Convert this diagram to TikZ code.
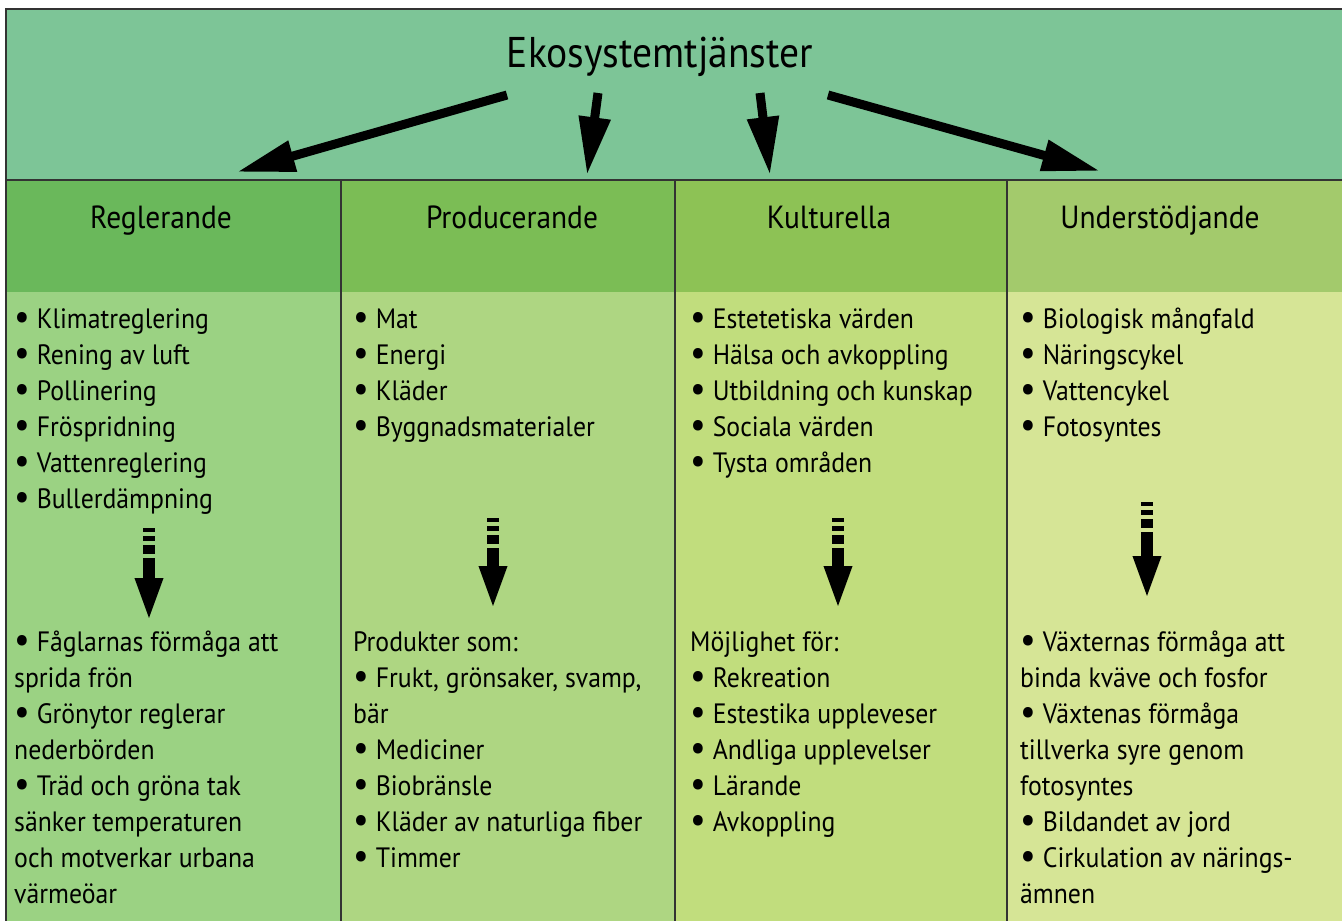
\documentclass[tikz,border=0pt]{standalone}
\usepackage{fontspec}
\setmainfont[FakeStretch=0.92]{PT Sans}
\usetikzlibrary{arrows.meta}
\definecolor{hdr}{HTML}{7DC597}
\definecolor{hA}{HTML}{6AB85B}
\definecolor{hB}{HTML}{7BBD55}
\definecolor{hC}{HTML}{8DC255}
\definecolor{hD}{HTML}{A3CA6C}
\definecolor{cA}{HTML}{9BD283}
\definecolor{cB}{HTML}{AED682}
\definecolor{cC}{HTML}{C1DD7D}
\definecolor{cD}{HTML}{D6E596}
\definecolor{frm}{HTML}{333333}
\newcommand\bul{\raisebox{-0.06em}{\scalebox{1.35}{•}}}
\tikzset{
  frameline/.style={draw=frm, line width=1.6pt},
  item/.style={anchor=base west, inner sep=0pt, font=\fontsize{28}{36}\selectfont, text=black},
  colhead/.style={anchor=base, inner sep=0pt, font=\fontsize{32}{38}\selectfont, text=black},
  bigarrow/.style={line width=9pt, -{Triangle[length=58pt,width=30pt]}},
  dasharrow/.style={line width=12pt, -{Triangle[length=44pt,width=25pt]},
    dash pattern=on 4pt off 4pt on 5pt off 4pt on 9pt off 4pt on 400pt}
}
\begin{document}
\begin{tikzpicture}[x=1pt,y=-1pt]
\useasboundingbox (0,0) rectangle (1342,921);
\fill[white] (0,0) rectangle (1342,921);
% backgrounds
\fill[hdr] (6,9) rectangle (1342,180);
\fill[hA] (6,180) rectangle (341,292);
\fill[hB] (341,180) rectangle (675,292);
\fill[hC] (675,180) rectangle (1007,292);
\fill[hD] (1007,180) rectangle (1342,292);
\fill[cA] (6,292) rectangle (341,921);
\fill[cB] (341,292) rectangle (675,921);
\fill[cC] (675,292) rectangle (1007,921);
\fill[cD] (1007,292) rectangle (1342,921);
% frame lines
\draw[frameline] (6,921) -- (6,9) -- (1342,9);
\draw[frameline] (6,180) -- (1342,180);
\draw[frameline] (341,180) -- (341,921);
\draw[frameline] (675,180) -- (675,921);
\draw[frameline] (1007,180) -- (1007,921);
% title
\node[anchor=base, inner sep=0pt, font=\fontsize{43}{50}\selectfont, text=black] (title) at (660,67) {Ekosystemtjänster};
% column headers
\node[colhead] (hReg) at (161,228) {Reglerande};
\node[colhead] (hPro) at (512,228) {Producerande};
\node[colhead] (hKul) at (829,228) {Kulturella};
\node[colhead] (hUnd) at (1160,228) {Understödjande};
% header arrows
\coordinate (a1s) at (507,95);  \coordinate (a1e) at (237,172);
\coordinate (a2s) at (598,93);  \coordinate (a2e) at (587,175);
\coordinate (a3s) at (760,93);  \coordinate (a3e) at (770,175);
\coordinate (a4s) at (828,95);  \coordinate (a4e) at (1100,171);
\draw[bigarrow] (a1s) -- (a1e);
\draw[bigarrow] (a2s) -- (a2e);
\draw[bigarrow] (a3s) -- (a3e);
\draw[bigarrow] (a4s) -- (a4e);
% top lists
\foreach \t [count=\i from 0] in {{\bul\ Klimatreglering},{\bul\ Rening av luft},{\bul\ Pollinering},{\bul\ Fröspridning},{\bul\ Vattenreglering},{\bul\ Bullerdämpning}}
  \node[item] (ra\i) at (14,{328+36*\i}) {\t};
\foreach \t [count=\i from 0] in {{\bul\ Mat},{\bul\ Energi},{\bul\ Kläder},{\bul\ Byggnadsmaterialer}}
  \node[item] (pa\i) at (353,{328+36*\i}) {\t};
\foreach \t [count=\i from 0] in {{\bul\ Estetetiska värden},{\bul\ Hälsa och avkoppling},{\bul\ Utbildning och kunskap},{\bul\ Sociala värden},{\bul\ Tysta områden}}
  \node[item] (ka\i) at (690,{328+36*\i}) {\t};
\foreach \t [count=\i from 0] in {{\bul\ Biologisk mångfald},{\bul\ Näringscykel},{\bul\ Vattencykel},{\bul\ Fotosyntes}}
  \node[item] (ua\i) at (1020,{328+36*\i}) {\t};
% column arrows
\coordinate (d1s) at (149,528);  \coordinate (d1e) at (149,622);
\coordinate (d2s) at (493,518);  \coordinate (d2e) at (493,610);
\coordinate (d3s) at (838,518);  \coordinate (d3e) at (838,610);
\coordinate (d4s) at (1147,502); \coordinate (d4e) at (1147,600);
\draw[dasharrow] (d1s) -- (d1e);
\draw[dasharrow] (d2s) -- (d2e);
\draw[dasharrow] (d3s) -- (d3e);
\draw[dasharrow] (d4s) -- (d4e);
% lower lists
\foreach \t [count=\i from 0] in {{\bul\ Fåglarnas förmåga att},{sprida frön},{\bul\ Grönytor reglerar},{nederbörden},{\bul\ Träd och gröna tak},{sänker temperaturen},{och motverkar urbana},{värmeöar}}
  \node[item] (rb\i) at (14,{651+36*\i}) {\t};
\foreach \t [count=\i from 0] in {{Produkter som:},{\bul\ Frukt, grönsaker, svamp,},{bär},{\bul\ Mediciner},{\bul\ Biobränsle},{\bul\ Kläder av naturliga fiber},{\bul\ Timmer}}
  \node[item] (pb\i) at (353,{651+36*\i}) {\t};
\foreach \t [count=\i from 0] in {{Möjlighet för:},{\bul\ Rekreation},{\bul\ Estestika uppleveser},{\bul\ Andliga upplevelser},{\bul\ Lärande},{\bul\ Avkoppling}}
  \node[item] (kb\i) at (690,{651+36*\i}) {\t};
\foreach \t [count=\i from 0] in {{\bul\ Växternas förmåga att},{binda kväve och fosfor},{\bul\ Växtenas förmåga},{tillverka syre genom},{fotosyntes},{\bul\ Bildandet av jord},{\bul\ Cirkulation av närings-},{ämnen}}
  \node[item] (ub\i) at (1020,{651+36*\i}) {\t};
\end{tikzpicture}
\end{document}
